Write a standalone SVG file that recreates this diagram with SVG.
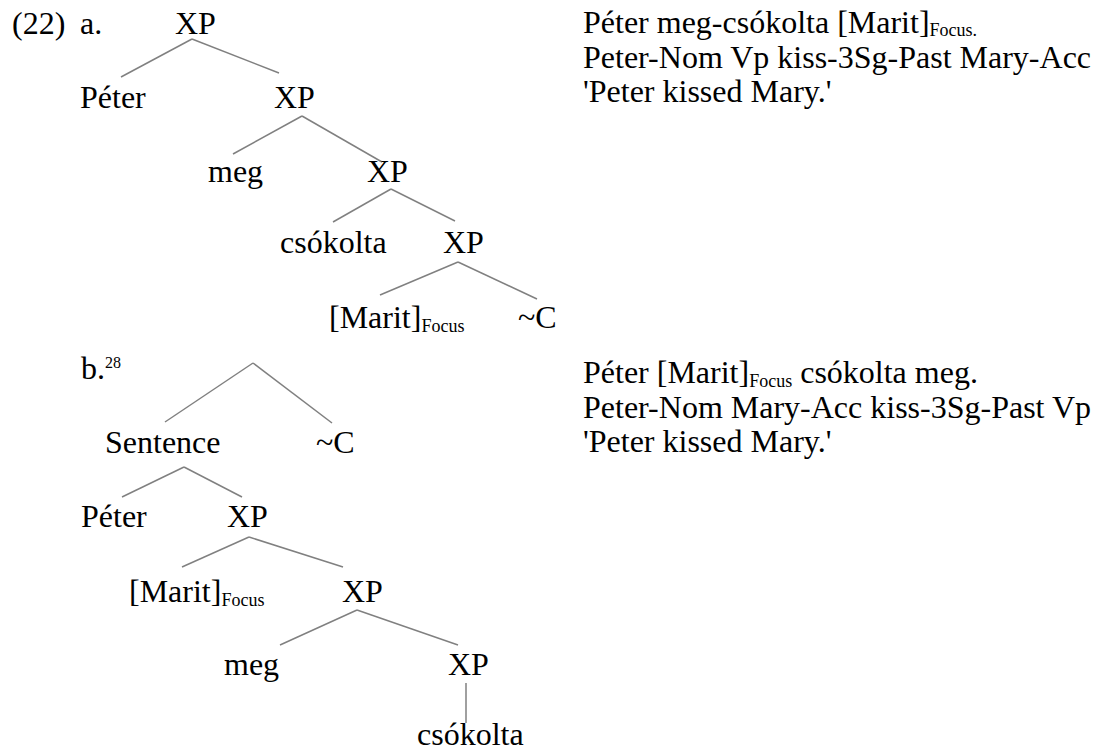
<svg xmlns="http://www.w3.org/2000/svg" width="1099" height="751" viewBox="0 0 1099 751">
<style>
text { font-family: 'Liberation Serif', 'Times New Roman', serif; font-size: 32px; fill: #000; }
.sub { font-size: 18px; }
.sup { font-size: 16px; }
#connectors line { stroke: #808080; stroke-width: 1.5; }
</style>
<rect width="1099" height="751" fill="#fff"/>
<g id="labels">
<text x="12" y="34">(22)</text>
<text x="80" y="34">a.</text>
<text x="81" y="379">b.<tspan class="sup" dy="-11">28</tspan></text>
</g>
<g id="connectors">
<line x1="192" y1="39" x2="121" y2="77"/>
<line x1="192" y1="39" x2="279" y2="73"/>
<line x1="302" y1="116" x2="233" y2="154"/>
<line x1="302" y1="116" x2="382" y2="162"/>
<line x1="391" y1="189" x2="333" y2="222"/>
<line x1="391" y1="189" x2="455" y2="221"/>
<line x1="458" y1="262" x2="380" y2="295"/>
<line x1="458" y1="262" x2="537" y2="299"/>
<line x1="253" y1="363" x2="165" y2="422"/>
<line x1="253" y1="363" x2="332" y2="423"/>
<line x1="184" y1="467" x2="122" y2="497"/>
<line x1="184" y1="467" x2="242" y2="497"/>
<line x1="249" y1="537" x2="182" y2="567"/>
<line x1="249" y1="537" x2="343" y2="567"/>
<line x1="357" y1="610" x2="280" y2="645"/>
<line x1="357" y1="610" x2="458" y2="645"/>
<line x1="466" y1="683" x2="466" y2="723"/>
</g>
<g id="a-xp1"><text x="175" y="34">XP</text></g>
<g id="a-peter"><text x="80" y="108">Péter</text></g>
<g id="a-xp2"><text x="274" y="108">XP</text></g>
<g id="a-meg"><text x="208" y="182">meg</text></g>
<g id="a-xp3"><text x="367" y="182">XP</text></g>
<g id="a-csokolta"><text x="280" y="253">csókolta</text></g>
<g id="a-xp4"><text x="443" y="253">XP</text></g>
<g id="a-marit"><text x="329" y="328">[Marit]<tspan class="sub" dy="4">Focus</tspan></text></g>
<g id="a-c"><text x="518" y="328">~C</text></g>
<g id="b-sentence"><text x="105" y="453">Sentence</text></g>
<g id="b-c"><text x="316" y="453">~C</text></g>
<g id="b-peter"><text x="81" y="527">Péter</text></g>
<g id="b-xp1"><text x="227" y="527">XP</text></g>
<g id="b-marit"><text x="129" y="602">[Marit]<tspan class="sub" dy="4">Focus</tspan></text></g>
<g id="b-xp2"><text x="342" y="602">XP</text></g>
<g id="b-meg"><text x="224" y="675">meg</text></g>
<g id="b-xp3"><text x="448" y="675">XP</text></g>
<g id="b-csokolta"><text x="417" y="745">csókolta</text></g>
<g id="gloss-a">
<text x="583" y="33">Péter meg-csókolta [Marit]<tspan class="sub" dy="3">Focus.</tspan></text>
<text x="583" y="68">Peter-Nom Vp kiss-3Sg-Past Mary-Acc</text>
<text x="583" y="102">'Peter kissed Mary.'</text>
</g>
<g id="gloss-b">
<text x="583" y="383">Péter [Marit]<tspan class="sub" dy="4">Focus</tspan><tspan dy="-4"> csókolta meg.</tspan></text>
<text x="583" y="418">Peter-Nom Mary-Acc kiss-3Sg-Past Vp</text>
<text x="583" y="452">'Peter kissed Mary.'</text>
</g>
</svg>
